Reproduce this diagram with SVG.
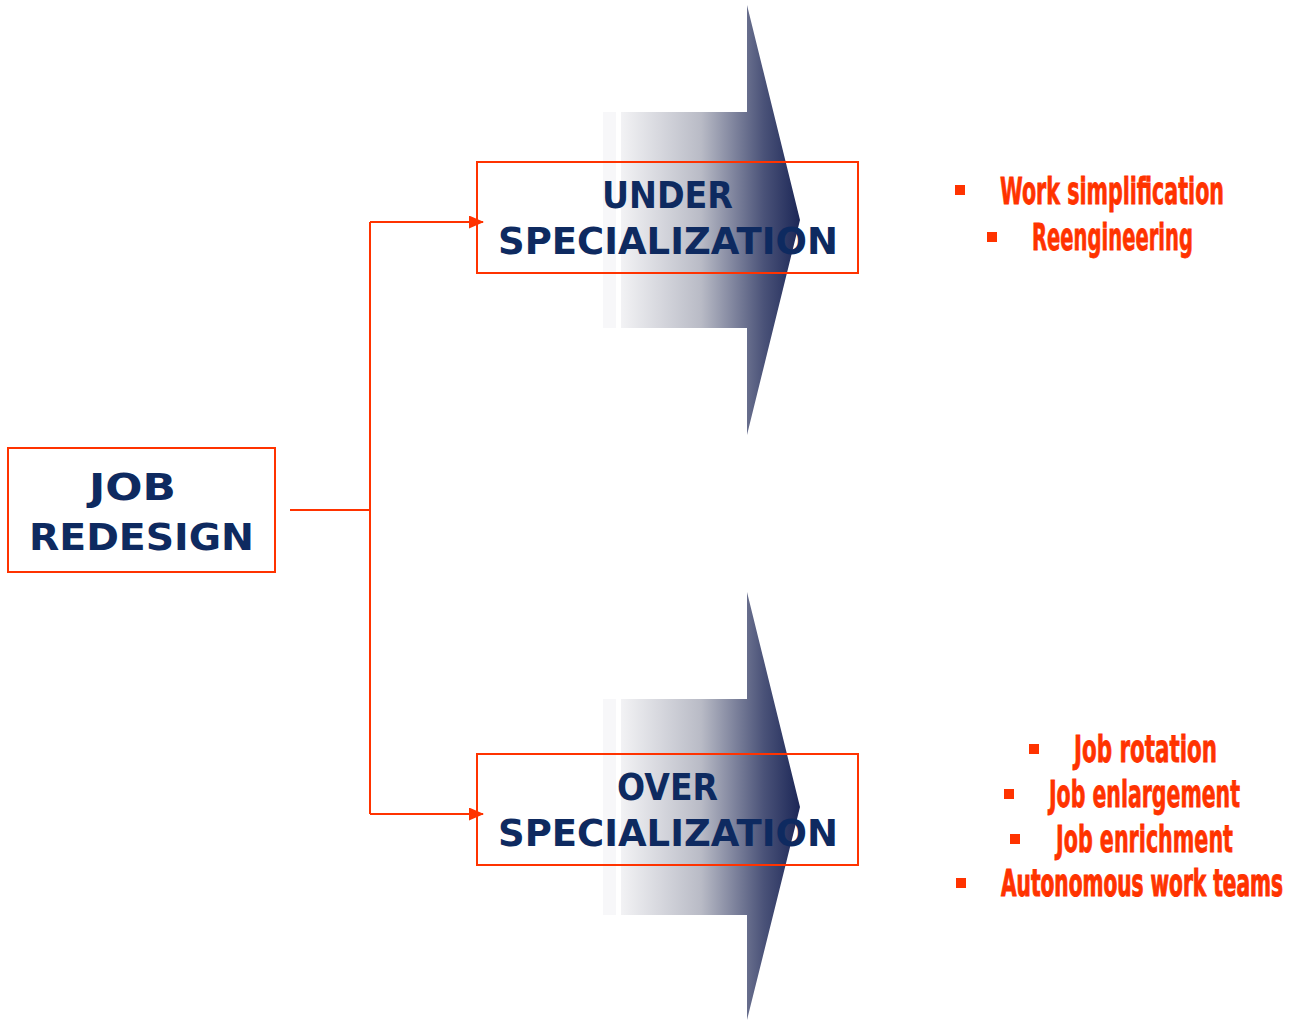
<svg xmlns="http://www.w3.org/2000/svg" width="1293" height="1020" viewBox="0 0 1293 1020">
  <defs>
    <linearGradient id="shade" gradientUnits="userSpaceOnUse" x1="620" y1="0" x2="800" y2="0">
      <stop offset="0" stop-color="#f3f3f5"/>
      <stop offset="0.45" stop-color="#b9bbc6"/>
      <stop offset="0.8" stop-color="#4a5278"/>
      <stop offset="1" stop-color="#1c2757"/>
    </linearGradient>
    <marker id="head" markerWidth="15" markerHeight="13" refX="14" refY="6.5" orient="auto" markerUnits="userSpaceOnUse">
      <path d="M0,0 L15,6.5 L0,13 Z" fill="#ff3300"/>
    </marker>
    <style>
      .box { fill: none; stroke: #ff3300; stroke-width: 2; }
      .title { font-family: "Comic Sans MS", "DejaVu Sans", sans-serif; font-weight: bold; font-size: 38px; fill: #0e2a60; }
      .item { font-family: "DejaVu Sans Condensed", "Liberation Sans Narrow", "Liberation Sans", sans-serif; font-weight: bold; font-size: 24px; fill: #ff3300; stroke: #ff3300; stroke-width: 0.5; }
      .item.long { font-size: 21px; stroke-width: 0.6; }
      .bullet { fill: #ff3300; }
      .wire { fill: none; stroke: #ff3300; stroke-width: 2; }
      .strip { fill: #f7f7f9; }
    </style>
  </defs>

  <!-- big shaded arrows behind the specialization boxes -->
  <g id="arrow-under">
    <rect class="strip" x="603" y="112" width="13" height="216"/>
    <path d="M621,112 H747 V5 L800,220 L747,435 V328 H621 Z" fill="url(#shade)"/>
  </g>
  <g id="arrow-over">
    <rect class="strip" x="603" y="699" width="13" height="216"/>
    <path d="M621,699 H747 V592 L800,807 L747,1020 V915 H621 Z" fill="url(#shade)"/>
  </g>

  <!-- connectors -->
  <g id="connectors">
    <path class="wire" d="M290,510 H370"/>
    <path class="wire" d="M370,222 V814"/>
    <path class="wire" d="M370,222 H483" marker-end="url(#head)"/>
    <path class="wire" d="M370,814 H483" marker-end="url(#head)"/>
  </g>

  <g id="job-redesign">
    <rect class="box" x="8" y="448" width="267" height="124"/>
    <text class="title" x="89" y="500" textLength="87" lengthAdjust="spacingAndGlyphs">JOB</text>
    <text class="title" x="29" y="550" textLength="225" lengthAdjust="spacingAndGlyphs">REDESIGN</text>
  </g>

  <g id="under-specialization">
    <rect class="box" x="477" y="162" width="381" height="111"/>
    <text class="title" x="602" y="208" textLength="131" lengthAdjust="spacingAndGlyphs">UNDER</text>
    <text class="title" x="498" y="254" textLength="340" lengthAdjust="spacingAndGlyphs">SPECIALIZATION</text>
  </g>

  <g id="over-specialization">
    <rect class="box" x="477" y="754" width="381" height="111"/>
    <text class="title" x="617" y="800" textLength="101" lengthAdjust="spacingAndGlyphs">OVER</text>
    <text class="title" x="498" y="846" textLength="340" lengthAdjust="spacingAndGlyphs">SPECIALIZATION</text>
  </g>

  <!-- tall condensed item labels: stretched vertically around their baselines -->
  <g id="under-remedies">
    <rect class="bullet" x="955" y="185" width="10" height="10"/>
    <text class="item" transform="translate(1000,204) scale(1,1.55)" textLength="224" lengthAdjust="spacingAndGlyphs">Work simplification</text>
    <rect class="bullet" x="987" y="232" width="10" height="10"/>
    <text class="item" transform="translate(1032,250) scale(1,1.55)" textLength="161" lengthAdjust="spacingAndGlyphs">Reengineering</text>
  </g>

  <g id="over-remedies">
    <rect class="bullet" x="1029" y="744" width="10" height="10"/>
    <text class="item" transform="translate(1074,762) scale(1,1.55)" textLength="143" lengthAdjust="spacingAndGlyphs">Job rotation</text>
    <rect class="bullet" x="1004" y="789" width="10" height="10"/>
    <text class="item" transform="translate(1049,807) scale(1,1.55)" textLength="191" lengthAdjust="spacingAndGlyphs">Job enlargement</text>
    <rect class="bullet" x="1010" y="834" width="10" height="10"/>
    <text class="item" transform="translate(1056,852) scale(1,1.55)" textLength="177" lengthAdjust="spacingAndGlyphs">Job enrichment</text>
    <rect class="bullet" x="956" y="878" width="10" height="10"/>
    <text class="item long" transform="translate(1001,896) scale(1,1.77)" textLength="282" lengthAdjust="spacingAndGlyphs">Autonomous work teams</text>
  </g>
</svg>
